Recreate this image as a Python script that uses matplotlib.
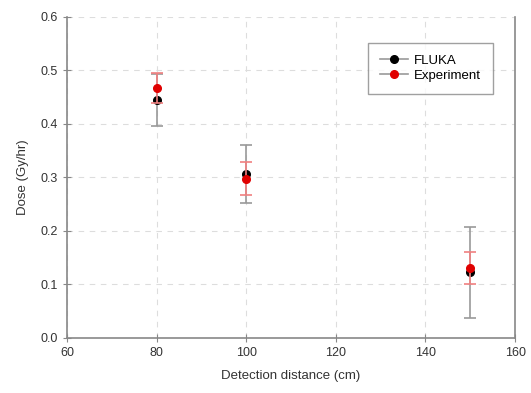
import matplotlib
matplotlib.use("Agg")
import matplotlib.pyplot as plt
from matplotlib.lines import Line2D

plt.rcParams['font.family'] = ['Liberation Sans', 'DejaVu Sans']

distance = [80, 100, 150]
fluka = [0.445, 0.306, 0.123]
fluka_err = [0.048, 0.054, 0.085]
experiment = [0.467, 0.298, 0.131]
experiment_err = [0.028, 0.030, 0.030]

fig = plt.figure(figsize=(5.31, 3.93), dpi=100)
ax = fig.add_axes([0.126, 0.140, 0.844, 0.817])

ax.errorbar(distance, fluka, yerr=fluka_err, fmt='o', color='black', ms=5.5,
            ecolor='#999999', elinewidth=1.2, capsize=4, capthick=1.2, zorder=3)
ax.errorbar(distance, experiment, yerr=experiment_err, fmt='o', color='#e00000', ms=5.5,
            ecolor='#f08080', elinewidth=1.2, capsize=4, capthick=1.2, zorder=4)

ax.set_xlim(60, 160)
ax.set_ylim(0, 0.6)
ax.set_xticks([60, 80, 100, 120, 140, 160])
ax.set_yticks([0.0, 0.1, 0.2, 0.3, 0.4, 0.5, 0.6])
ax.yaxis.set_major_formatter(matplotlib.ticker.FormatStrFormatter('%.1f'))
ax.grid(True, color='#dddddd', linestyle=(0, (5, 5)), linewidth=0.8)
ax.set_axisbelow(True)

ax.spines['top'].set_visible(False)
for s in ['left', 'bottom', 'right']:
    ax.spines[s].set_color('#888888')
    ax.spines[s].set_linewidth(1.2)
ax.tick_params(direction='inout', length=6, color='#888888', labelsize=9,
               labelcolor='#333333')

ax.set_xlabel('Detection distance (cm)', fontsize=9.5, color='#333333', labelpad=8)
ax.set_ylabel('Dose (Gy/hr)', fontsize=9.5, color='#333333', labelpad=8)

handles = [Line2D([], [], color='#999999', lw=1.2, marker='o', ms=5.5,
                  mfc='black', mec='black'),
           Line2D([], [], color='#999999', lw=1.2, marker='o', ms=5.5,
                  mfc='#e00000', mec='#e00000')]
leg = ax.legend(handles, ['FLUKA', 'Experiment'], loc='upper right',
                bbox_to_anchor=(0.951, 0.919), borderaxespad=0, fontsize=9.5,
                frameon=True, fancybox=False, edgecolor='#888888',
                handlelength=2.1, handletextpad=0.5, borderpad=0.9,
                labelspacing=0.2)
leg.get_frame().set_linewidth(1.0)

fig.savefig('out.png', dpi=100)
